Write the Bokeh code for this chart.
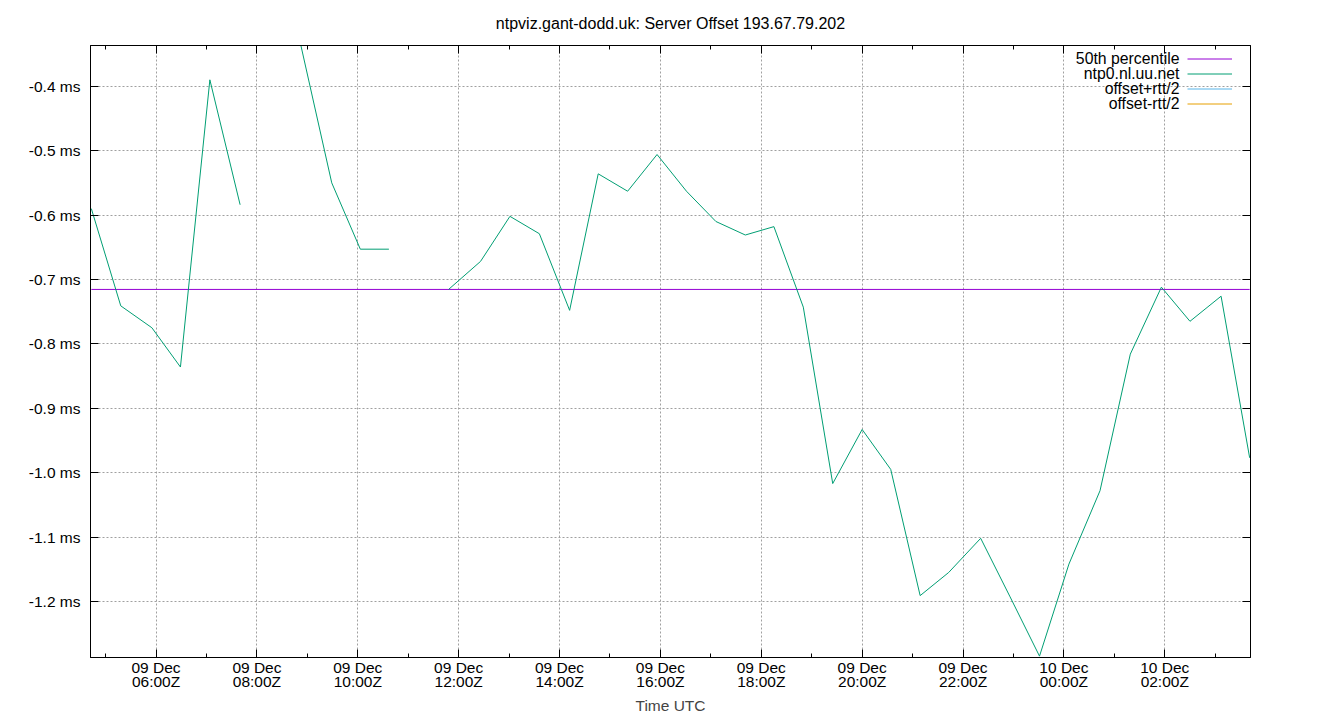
import numpy as np
import pandas as pd
from bokeh.plotting import figure
from bokeh.models import (Range1d, LinearAxis, FixedTicker, PrintfTickFormatter,
                          CustomJSTickFormatter, Legend, LegendItem, Grid, ColumnDataSource,
                          Label)
from bokeh.embed import file_html
from bokeh.resources import INLINE

TITLE = "ntpviz.gant-dodd.uk: Server Offset 193.67.79.202"
X_LABEL = "Time UTC"
SERVER = "ntp0.nl.uu.net"
LEGEND_LABELS = ["50th percentile", SERVER, "offset+rtt/2", "offset-rtt/2"]

# sample times (UTC) and measured offsets (ms); NaN = no sample
TIMES = [
    "2023-12-09 04:43", "2023-12-09 05:18", "2023-12-09 05:55", "2023-12-09 06:29",
    "2023-12-09 07:04", "2023-12-09 07:40", "2023-12-09 08:15", "2023-12-09 08:52",
    "2023-12-09 09:29", "2023-12-09 10:03", "2023-12-09 10:37", "2023-12-09 11:12",
    "2023-12-09 11:48", "2023-12-09 12:26", "2023-12-09 13:01", "2023-12-09 13:36",
    "2023-12-09 14:12", "2023-12-09 14:46", "2023-12-09 15:21", "2023-12-09 15:56",
    "2023-12-09 16:31", "2023-12-09 17:06", "2023-12-09 17:41", "2023-12-09 18:15",
    "2023-12-09 18:50", "2023-12-09 19:25", "2023-12-09 20:00", "2023-12-09 20:34",
    "2023-12-09 21:09", "2023-12-09 21:43", "2023-12-09 22:21", "2023-12-09 22:56",
    "2023-12-09 23:31", "2023-12-10 00:06", "2023-12-10 00:43", "2023-12-10 01:19",
    "2023-12-10 01:56", "2023-12-10 02:30", "2023-12-10 03:07", "2023-12-10 03:41",
]
NAN = float("nan")
OFFSET_MS = [
    -0.590, -0.741, -0.775, -0.836,
    -0.390, -0.584, NAN, -0.335,
    -0.550, -0.653, -0.653, NAN,
    -0.7155, -0.672, -0.602, -0.629,
    -0.748, -0.536, -0.563, -0.506,
    -0.563, -0.610, -0.631, -0.618,
    -0.743, -1.017, -0.933, -0.995,
    -1.191, -1.155, -1.102, -1.193,
    -1.285, -1.142, -1.028, -0.816,
    -0.712, -0.765, -0.726, -0.977,
]
# rtt bound series: no drawable samples in this window
RTT_TIMES = ["2023-12-09 04:43"]
RTT_PLUS_MS = [NAN]
RTT_MINUS_MS = [NAN]
P50_MS = -0.7155

X_START = "2023-12-09 04:42"
X_END = "2023-12-10 03:42"
Y_MIN = -1.2871
Y_MAX = -0.3367

X_TICKS = ["2023-12-09 06:00", "2023-12-09 08:00", "2023-12-09 10:00", "2023-12-09 12:00",
           "2023-12-09 14:00", "2023-12-09 16:00", "2023-12-09 18:00", "2023-12-09 20:00",
           "2023-12-09 22:00", "2023-12-10 00:00", "2023-12-10 02:00"]
X_TICK_LABELS = ["09 Dec\n06:00Z", "09 Dec\n08:00Z", "09 Dec\n10:00Z", "09 Dec\n12:00Z",
                 "09 Dec\n14:00Z", "09 Dec\n16:00Z", "09 Dec\n18:00Z", "09 Dec\n20:00Z",
                 "09 Dec\n22:00Z", "10 Dec\n00:00Z", "10 Dec\n02:00Z"]
X_MINOR = ["2023-12-09 05:00", "2023-12-09 07:00", "2023-12-09 09:00", "2023-12-09 11:00",
           "2023-12-09 13:00", "2023-12-09 15:00", "2023-12-09 17:00", "2023-12-09 19:00",
           "2023-12-09 21:00", "2023-12-09 23:00", "2023-12-10 01:00", "2023-12-10 03:00"]
Y_TICKS = [-1.2, -1.1, -1.0, -0.9, -0.8, -0.7, -0.6, -0.5, -0.4]


def to_ms(strings):
    return [float(pd.Timestamp(s).value // 10**6) for s in strings]


FONT = "Liberation Sans"
FS = "15.5px"
W, H = 1340, 720
BL, BR, BT, BB = 90, 90, 44, 63
FRAME_W, FRAME_H = W - BL - BR, H - BT - BB

x_ms = to_ms(TIMES)
xt = to_ms(X_TICKS)
xm = to_ms(X_MINOR)
x0, x1 = to_ms([X_START, X_END])

p = figure(width=W, height=H, output_backend="svg", toolbar_location=None,
           x_range=Range1d(x0, x1), y_range=Range1d(Y_MIN, Y_MAX),
           x_axis_type=None, y_axis_type=None, title=TITLE,
           min_border_left=BL, min_border_right=BR, min_border_top=BT, min_border_bottom=BB)
p.title.align = "center"
p.title.vertical_align = "middle"
p.title.text_font = FONT
p.title.text_font_size = "16px"
p.title.text_font_style = "normal"
p.title.text_color = "black"
p.title.standoff = 26
p.outline_line_color = "black"
p.outline_line_width = 1
p.background_fill_color = "white"
p.border_fill_color = "white"

xticker = FixedTicker(ticks=xt, minor_ticks=xm)
yticker = FixedTicker(ticks=Y_TICKS, minor_ticks=[])


def style_axis(ax, labels=True):
    ax.axis_line_color = "black"
    ax.major_tick_in = 8
    ax.major_tick_out = 0
    ax.minor_tick_in = 4
    ax.minor_tick_out = 0
    ax.major_tick_line_color = "black"
    ax.minor_tick_line_color = "black"
    ax.major_label_text_font = FONT
    ax.major_label_text_font_size = FS
    ax.major_label_text_color = "black"
    if not labels:
        ax.formatter = CustomJSTickFormatter(code="return ''")
        ax.major_label_standoff = 0
        ax.major_label_text_font_size = "1px"


xaxis = LinearAxis(ticker=xticker, axis_label=X_LABEL,
                   major_label_overrides={t: l for t, l in zip(xt, X_TICK_LABELS)})
style_axis(xaxis)
xaxis.major_label_standoff = 1
xaxis.major_label_text_line_height = 0.85
xaxis.axis_label_text_font = FONT
xaxis.axis_label_text_font_size = FS
xaxis.axis_label_text_font_style = "normal"
xaxis.axis_label_standoff = 4
p.add_layout(xaxis, "below")

xtop = LinearAxis(ticker=xticker)
style_axis(xtop, labels=False)
p.add_layout(xtop, "above")

yaxis = LinearAxis(ticker=yticker, formatter=PrintfTickFormatter(format="%.1f ms"))
style_axis(yaxis)
yaxis.major_label_standoff = 10
yaxis.minor_tick_line_color = None
p.add_layout(yaxis, "left")

yright = LinearAxis(ticker=yticker)
style_axis(yright, labels=False)
yright.minor_tick_line_color = None
p.add_layout(yright, "right")

for dim, tk in ((0, xticker), (1, yticker)):
    g = Grid(dimension=dim, ticker=tk, grid_line_color="#a0a0a0",
             grid_line_dash="2 2", grid_line_width=1)
    p.add_layout(g)

src = ColumnDataSource(dict(x=x_ms, y=OFFSET_MS))
rtt_x = to_ms(RTT_TIMES)
r_p50 = p.line(x=[x_ms[0], x_ms[-1]], y=[P50_MS, P50_MS], line_color="#9400d3", line_width=1)
r_off = p.line("x", "y", source=src, line_color="#009e73", line_width=1)
r_plus = p.line(x=rtt_x, y=RTT_PLUS_MS, line_color="#56b4e9", line_width=1)
r_minus = p.line(x=rtt_x, y=RTT_MINUS_MS, line_color="#e69f00", line_width=1)

# gnuplot-style key: right-aligned text, line sample to its right
ROW_H = 15
KEY_TOP = 14          # first row centre, px below frame top
KEY_TEXT_RIGHT = 1089  # px from frame left
KEY_SAMPLE_LEFT = 1097
legend = Legend(items=[LegendItem(label=" ", renderers=[r])
                       for r in (r_p50, r_off, r_plus, r_minus)],
                location=(KEY_SAMPLE_LEFT, FRAME_H - KEY_TOP + ROW_H / 2 - 4 * ROW_H))
legend.border_line_color = None
legend.background_fill_alpha = 0
legend.label_text_font_size = "8px"
legend.glyph_width = 45
legend.glyph_height = ROW_H
legend.label_height = ROW_H
legend.label_width = 0
legend.label_standoff = 0
legend.spacing = 0
legend.padding = 0
legend.margin = 0
p.add_layout(legend)

for i, txt in enumerate(LEGEND_LABELS):
    p.add_layout(Label(x=KEY_TEXT_RIGHT, y=FRAME_H - KEY_TOP - i * ROW_H,
                       x_units="screen", y_units="screen", text=txt,
                       text_align="right", text_baseline="middle",
                       text_font=FONT, text_font_size="15.8px", text_color="black"))

open("out.html", "w").write(file_html(p, INLINE))
